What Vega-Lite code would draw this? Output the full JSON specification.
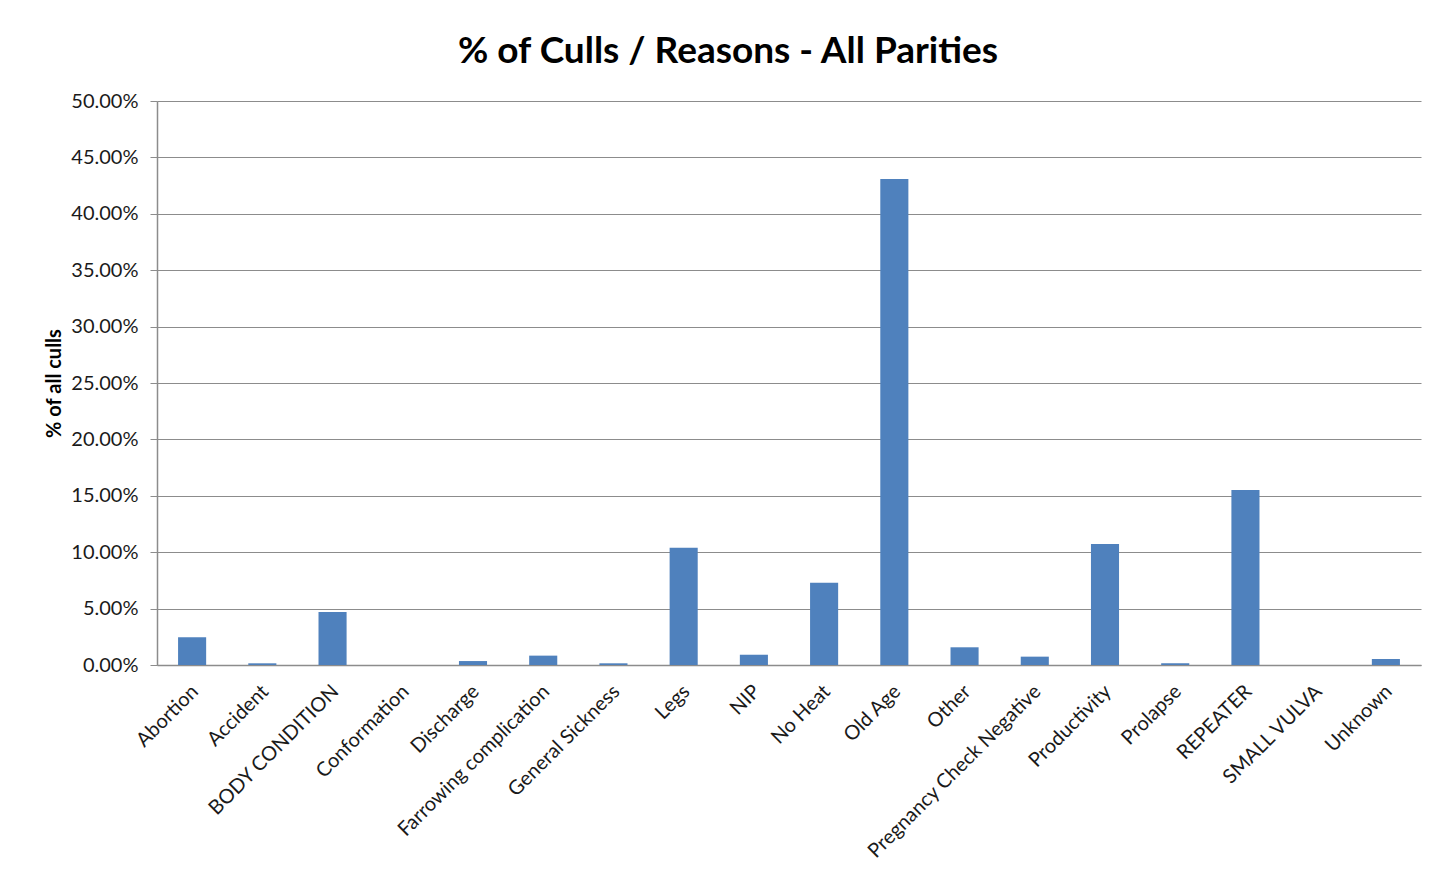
{
  "$schema": "https://vega.github.io/schema/vega-lite/v6.json",
  "autosize": {"type": "none"},
  "width": 1264,
  "height": 564,
  "padding": {"left": 157, "top": 101, "right": 12, "bottom": 212},
  "background": "white",
  "title": {
    "text": "% of Culls / Reasons - All Parities",
    "font": "Lato",
    "fontSize": 37,
    "fontWeight": "bold",
    "color": "#000000",
    "anchor": "middle",
    "dx": -61,
    "offset": 20
  },
  "data": {
    "values": [
      {"reason": "Abortion", "pct": 0.0246},
      {"reason": "Accident", "pct": 0.0015},
      {"reason": "BODY CONDITION", "pct": 0.047},
      {"reason": "Conformation", "pct": 0.0},
      {"reason": "Discharge", "pct": 0.0035},
      {"reason": "Farrowing complication", "pct": 0.0083},
      {"reason": "General Sickness", "pct": 0.0015},
      {"reason": "Legs", "pct": 0.104},
      {"reason": "NIP", "pct": 0.0091},
      {"reason": "No Heat", "pct": 0.073},
      {"reason": "Old Age", "pct": 0.4309},
      {"reason": "Other", "pct": 0.0157},
      {"reason": "Pregnancy Check Negative", "pct": 0.0074},
      {"reason": "Productivity", "pct": 0.1073},
      {"reason": "Prolapse", "pct": 0.0015},
      {"reason": "REPEATER", "pct": 0.1551},
      {"reason": "SMALL VULVA", "pct": 0.0},
      {"reason": "Unknown", "pct": 0.0053}
    ]
  },
  "mark": {"type": "bar", "color": "#4f81bd"},
  "encoding": {
    "x": {
      "field": "reason",
      "type": "nominal",
      "sort": null,
      "scale": {"paddingInner": 0.6, "paddingOuter": 0.3},
      "axis": {
        "title": null,
        "labelAngle": -45,
        "labelAlign": "right",
        "labelBaseline": "top",
        "labelFont": "Lato",
        "labelFontSize": 20,
        "labelColor": "#1a1a1a",
        "labelPadding": 16,
        "labelOffset": -4,
        "ticks": false,
        "domainColor": "#8c8c8c",
        "domainWidth": 1.5,
        "labelLimit": 400
      }
    },
    "y": {
      "field": "pct",
      "type": "quantitative",
      "scale": {"domain": [0, 0.5], "nice": false},
      "axis": {
        "title": "% of all culls",
        "titleFont": "Lato",
        "titleFontSize": 20,
        "titleFontWeight": "bold",
        "titleColor": "#000000",
        "titlePadding": 6,
        "format": ".2%",
        "values": [0, 0.05, 0.1, 0.15, 0.2, 0.25, 0.3, 0.35, 0.4, 0.45, 0.5],
        "labelFont": "Lato",
        "labelFontSize": 20,
        "labelColor": "#1a1a1a",
        "labelPadding": 12,
        "tickSize": 7,
        "tickColor": "#8c8c8c",
        "domainColor": "#8c8c8c",
        "domainWidth": 1.5,
        "grid": true,
        "gridColor": "#8c8c8c",
        "gridWidth": 1
      }
    }
  },
  "config": {
    "view": {"stroke": null}
  }
}
